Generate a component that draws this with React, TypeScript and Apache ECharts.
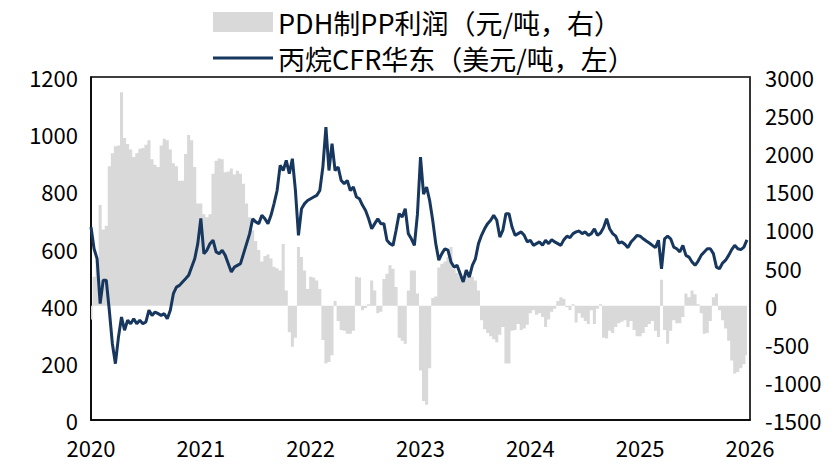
import React, { useEffect, useRef } from "react";
import * as echarts from "echarts";

// 丙烷CFR华东 (USD/t, left axis) — 36 samples per year (~10-day spacing)
const propane2020 = [675, 599, 564, 407, 489, 489, 384, 267, 197, 290, 360, 314, 349, 337, 354, 337, 349, 337, 343, 384, 366, 378, 372, 366, 372, 354, 384, 442, 465, 471, 483, 494, 506, 535, 564, 617];
const propane2021 = [705, 582, 594, 617, 629, 588, 582, 594, 576, 547, 518, 535, 541, 547, 582, 617, 652, 704, 693, 687, 716, 704, 687, 716, 757, 803, 891, 873, 908, 862, 914, 803, 646, 739, 757, 768];
const propane2022 = [774, 780, 786, 803, 885, 1025, 873, 967, 873, 885, 838, 827, 838, 803, 815, 780, 774, 751, 733, 704, 669, 687, 704, 687, 687, 629, 617, 611, 664, 722, 710, 739, 652, 634, 611, 720];
const propane2023 = [920, 790, 815, 768, 699, 617, 559, 582, 599, 594, 553, 535, 541, 512, 483, 524, 500, 541, 564, 617, 646, 669, 687, 699, 716, 699, 640, 664, 722, 722, 675, 646, 652, 658, 646, 623];
const propane2024 = [629, 611, 617, 623, 611, 629, 617, 631, 623, 617, 611, 631, 643, 638, 652, 658, 661, 652, 658, 646, 652, 669, 646, 654, 673, 704, 669, 652, 643, 619, 623, 615, 603, 623, 634, 646];
const propane2025 = [643, 634, 626, 619, 611, 603, 629, 529, 634, 643, 634, 605, 599, 588, 611, 576, 570, 553, 541, 556, 576, 588, 599, 599, 582, 535, 529, 549, 559, 576, 596, 611, 599, 596, 605, 630];

// PDH制PP利润 (CNY/t, right axis)
const profit2020 = [-180, 380, 600, 1320, 1000, 1050, 1830, 2000, 2090, 2100, 2800, 2200, 2120, 2050, 1950, 2000, 2060, 2070, 2110, 2170, 1920, 1850, 1820, 2100, 2190, 2170, 2050, 1870, 1830, 1640, 1640, 1990, 2240, 2170, 1820, 1340];
const profit2021 = [1340, 1200, 1160, 1200, 1730, 1900, 1930, 1920, 1750, 1760, 1800, 1720, 1770, 1730, 1600, 1340, 1160, 990, 850, 730, 580, 650, 670, 620, 510, 490, 460, 810, 200, -350, -540, -420, 770, 640, 460, 220];
const profit2022 = [380, 370, 330, 220, -450, -760, -740, -650, 60, -200, -320, -330, -370, -370, -330, 380, 370, -60, -30, 20, 330, 200, -100, -80, 350, 420, 530, 485, 245, -420, -460, -500, 200, 460, 460, 160];
const profit2023 = [-850, -1250, -1300, -820, 100, 120, 500, 550, 580, 640, 770, 480, 430, 380, 380, 400, 370, 380, 330, 200, -190, -310, -360, -400, -440, -480, -380, -280, -760, -760, -330, -320, -240, -320, -300, -250];
const profit2024 = [-100, -60, -120, -100, -150, -280, -180, -80, -40, 60, 110, 90, -20, -60, 20, -220, -100, -160, -200, -240, -60, -240, -40, 20, -420, -430, -330, -360, -280, -230, -210, -190, -280, -200, -320, -400];
const profit2025 = [-400, -360, -280, -240, -200, -330, -410, 340, -320, -500, -330, -190, -230, -230, -150, 160, 110, 200, 150, 20, -100, -370, -360, -200, 110, 160, -60, -190, -300, -460, -720, -890, -870, -820, -770, -650];

const years = [2020, 2021, 2022, 2023, 2024, 2025];
const propaneByYear = [propane2020, propane2021, propane2022, propane2023, propane2024, propane2025];
const profitByYear = [profit2020, profit2021, profit2022, profit2023, profit2024, profit2025];

const leftTicks = { min: 0, max: 1200, interval: 200 };
const rightTicks = { min: -1500, max: 3000, interval: 500 };
const xRange = { min: 2020, max: 2026, interval: 1 };

const NAME_PROFIT = "PDH制PP利润（元/吨，右）";
const NAME_PROPANE = "丙烷CFR华东（美元/吨，左）";

function toSeries(byYear: number[][]) {
  const out: [number, number][] = [];
  byYear.forEach((arr, yi) => {
    arr.forEach((v, i) => {
      out.push([years[yi] + i / arr.length, v]);
    });
  });
  return out;
}

const FONT = "'Noto Sans CJK SC', 'Noto Sans', sans-serif";
const TICK = 22;
const LEG = 27;

export default function App() {
  const ref = useRef<HTMLDivElement>(null);
  useEffect(() => {
    if (!ref.current) return;
    const chart = echarts.init(ref.current, undefined, { renderer: "svg" });
    const legendText = { fontSize: LEG, color: "#000", fontFamily: FONT, lineHeight: 30 };
    const tickLabel = {
      fontSize: TICK,
      color: "#000",
      fontFamily: FONT,
      formatter: (v: number) => String(v),
    };
    chart.setOption({
      animation: false,
      backgroundColor: "#fff",
      textStyle: { fontFamily: FONT, color: "#000" },
      legend: [
        {
          left: 213,
          top: 7,
          padding: 0,
          itemWidth: 60,
          itemHeight: 20,
          textStyle: legendText,
          data: [{ name: NAME_PROFIT, icon: "rect" }],
        },
        {
          left: 213,
          top: 43,
          padding: 0,
          itemWidth: 60,
          itemHeight: 3,
          textStyle: legendText,
          data: [{ name: NAME_PROPANE, icon: "rect" }],
        },
      ],
      grid: {
        left: 91,
        right: 90,
        top: 77,
        bottom: 45,
        show: true,
        borderColor: "#000",
        borderWidth: 1.5,
      },
      xAxis: {
        type: "value",
        min: xRange.min,
        max: xRange.max,
        interval: xRange.interval,
        axisLine: { show: true, lineStyle: { color: "#000", width: 1.5 } },
        axisTick: { show: false },
        splitLine: { show: false },
        axisLabel: { ...tickLabel, margin: 16 },
      },
      yAxis: [
        {
          type: "value",
          min: leftTicks.min,
          max: leftTicks.max,
          interval: leftTicks.interval,
          axisLine: { show: true, lineStyle: { color: "#000", width: 1.5 } },
          axisTick: { show: false },
          splitLine: { show: false },
          axisLabel: { ...tickLabel, margin: 13, lineHeight: 20 },
        },
        {
          type: "value",
          min: rightTicks.min,
          max: rightTicks.max,
          interval: rightTicks.interval,
          axisLine: { show: true, lineStyle: { color: "#333", width: 1.5 } },
          axisTick: { show: false },
          splitLine: { show: false },
          axisLabel: { ...tickLabel, margin: 15, lineHeight: 20 },
        },
      ],
      series: [
        {
          name: NAME_PROFIT,
          type: "line",
          yAxisIndex: 1,
          step: "middle",
          symbol: "none",
          color: "#d9d9d9",
          lineStyle: { width: 0, color: "#d9d9d9" },
          areaStyle: { color: "#d9d9d9", opacity: 1 },
          data: toSeries(profitByYear),
          z: 1,
        },
        {
          name: NAME_PROPANE,
          type: "line",
          yAxisIndex: 0,
          symbol: "none",
          color: "#17375e",
          lineStyle: { width: 3, color: "#17375e" },
          data: toSeries(propaneByYear),
          z: 3,
        },
      ],
    });
    return () => chart.dispose();
  }, []);
  return (
    <div
      ref={ref}
      style={{ position: "fixed", left: 0, top: 0, width: 840, height: 465, background: "#fff" }}
    />
  );
}
